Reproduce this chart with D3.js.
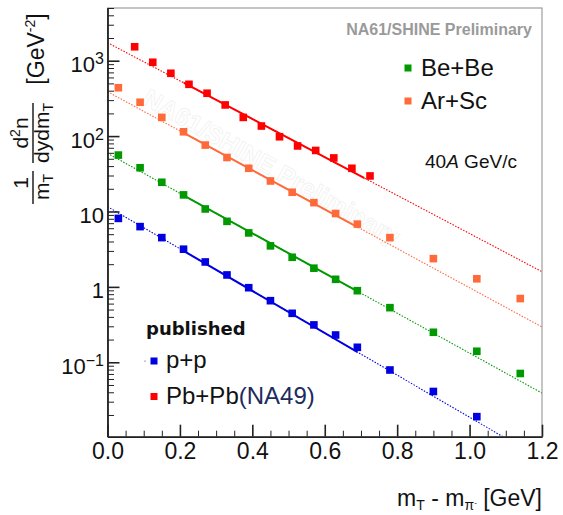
<!DOCTYPE html>
<html>
<head>
<meta charset="utf-8">
<script src="https://cdnjs.cloudflare.com/ajax/libs/d3/7.8.5/d3.min.js"></script>
<style>
body{margin:0;background:#fff;}
svg{display:block;font-family:"Liberation Sans",Arial,sans-serif;}
</style>
</head>
<body>
<svg id="graph"></svg>
<script>
// values
var xNA61 = [0.03,0.09,0.15,0.21,0.27,0.33,0.39,0.45,0.51,0.57,0.63,0.69,0.78,0.90,1.02,1.14];
var xPbPb = [0.075,0.125,0.175,0.225,0.275,0.325,0.375,0.425,0.475,0.525,0.575,0.625,0.675,0.725];

var beBe = [56,38,24.4,16.6,10.8,7.4,5.2,3.5,2.47,1.77,1.26,0.89,0.53,0.25,0.14,0.071];
var arSc = [438,281,177,114,76,52,37.4,25.4,18,13.1,9.4,6.8,4.5,2.37,1.28,0.70];
var pp = [8.1,6.3,4.5,3.16,2.14,1.44,0.975,0.656,0.446,0.313,0.230,0.158,0.079,0.041,0.019];
var pbPb = [1530,953,681,486,370,259,177,136,98,74,64.5,51.3,37.4,29.6];

// exponential fits: value at x=0 and at x=1.2, solid over the fit range
var fitNames = ["pbpb","arsc","bebe","pp"];
var fitAtZero = [1734,388,59.1,11.6];
var fitAtEnd = [1.59,0.294,0.039,0.00515];
var fitFrom = [0.21,0.20,0.20,0.20];
var fitTo = [0.71,0.69,0.69,0.69];
var fitColors = ["#ff0000","#ff6a3a","#009900","#0000e0"];

var yTickValues = [0.1,1,10,100,1000];
var yTickBase = ["10","1","10","10","10"];
var yTickExp = ["\u22121","","","2","3"];
var xTickValues = [0,0.2,0.4,0.6,0.8,1.0,1.2];

var screen = {width:563, height:515};
var margins = {top:8, left:107.5, right:21, bottom:78.3};
var graph = {
    width: screen.width-margins.left-margins.right,
    height: screen.height-margins.top-margins.bottom
};

var svg = d3.select("#graph")
    .attr("width",screen.width)
    .attr("height",screen.height);

var xScale = d3.scaleLinear()
    .domain([0,1.2])
    .range([margins.left, margins.left+graph.width]);

var yScale = d3.scaleLog()
    .domain([0.0103,5000])
    .range([margins.top+graph.height, margins.top]);

var bottom = margins.top+graph.height;

svg.append("clipPath").attr("id","plotclip")
    .append("rect")
    .attr("x",margins.left).attr("y",margins.top)
    .attr("width",graph.width).attr("height",graph.height);

// faint watermark
svg.append("text")
    .attr("transform","translate(141,103) rotate(29.5)")
    .attr("font-weight","bold")
    .attr("font-size",25)
    .attr("fill","#ffffff")
    .attr("stroke","#f0f0f0")
    .attr("stroke-width",0.7)
    .text("NA61/SHINE Preliminary");

// fit lines
var fitG = svg.append("g").attr("clip-path","url(#plotclip)");
var lineGen = d3.line()
    .x(function(d){ return xScale(d[0]); })
    .y(function(d){ return yScale(d[1]); });

fitNames.forEach(function(name,i){
    var pts = [[0,fitAtZero[i]],[1.2,fitAtEnd[i]]];
    fitG.append("path")
        .attr("d",lineGen(pts))
        .attr("fill","none")
        .attr("stroke",fitColors[i])
        .attr("stroke-width",1.1)
        .attr("stroke-dasharray","1.5,1.5");
    svg.append("clipPath").attr("id","fit-"+name)
        .append("rect")
        .attr("x",xScale(fitFrom[i])).attr("y",margins.top)
        .attr("width",xScale(fitTo[i])-xScale(fitFrom[i]))
        .attr("height",graph.height);
    svg.append("g").attr("clip-path","url(#fit-"+name+")")
        .append("path")
        .attr("d",lineGen(pts))
        .attr("fill","none")
        .attr("stroke",fitColors[i])
        .attr("stroke-width",2);
});

// points
var drawSquares = function(xs,ys,color)
{
    svg.append("g")
        .selectAll("rect")
        .data(ys)
        .enter()
        .append("rect")
        .attr("x",function(d,i){ return xScale(xs[i])-3.8; })
        .attr("y",function(d){ return yScale(d)-3.8; })
        .attr("width",7.6)
        .attr("height",7.6)
        .attr("fill",color);
}
drawSquares(xPbPb,pbPb,"#ff0000");
drawSquares(xNA61,arSc,"#ff6a3a");
drawSquares(xNA61,beBe,"#009900");
drawSquares(xNA61,pp,"#0000e0");

// frame
svg.append("rect")
    .attr("x",margins.left).attr("y",margins.top)
    .attr("width",graph.width).attr("height",graph.height)
    .attr("fill","none")
    .attr("stroke","#8a8a8a")
    .attr("stroke-width",1);

// axes
var yMinor = yScale.ticks().filter(function(v){
    return yTickValues.indexOf(v)<0;
});
svg.append("g")
    .attr("transform","translate("+margins.left+",0)")
    .call(d3.axisLeft(yScale).tickValues(yMinor).tickSize(-6.5).tickSizeOuter(0).tickFormat(""))
    .attr("color","#222");
svg.append("g")
    .attr("transform","translate("+margins.left+",0)")
    .call(d3.axisLeft(yScale).tickValues(yTickValues).tickSize(-12).tickSizeOuter(0).tickFormat(""))
    .attr("color","#222")
    .selectAll("path,line").attr("stroke-width",1.6);

var yLab = svg.append("g")
    .selectAll("text")
    .data(yTickValues)
    .enter()
    .append("text")
    .attr("x",104)
    .attr("y",function(d){ return yScale(d)+11.5; })
    .attr("text-anchor","end")
    .attr("font-size",22)
    .attr("fill","#111");
yLab.append("tspan").text(function(d,i){ return yTickBase[i]; });
yLab.append("tspan")
    .attr("font-size",16)
    .attr("dy",-8)
    .text(function(d,i){ return yTickExp[i]; });

var xMinor = d3.range(0,1.2001,0.05).filter(function(v){
    return Math.abs(v*5-Math.round(v*5))>0.01;
});
svg.append("g")
    .attr("transform","translate(0,"+bottom+")")
    .call(d3.axisBottom(xScale).tickValues(xMinor).tickSize(-6).tickSizeOuter(0).tickFormat(""))
    .attr("color","#222");
var xAx = svg.append("g")
    .attr("transform","translate(0,"+bottom+")")
    .call(d3.axisBottom(xScale).tickValues(xTickValues).tickSize(-12).tickSizeOuter(0).tickFormat(d3.format(".1f")))
    .attr("color","#222");
xAx.selectAll("path,line").attr("stroke-width",1.6);
xAx.selectAll("text")
    .attr("y",22.8)
    .attr("dy",null)
    .attr("font-size",23)
    .attr("font-family","Liberation Sans, Arial, sans-serif")
    .attr("fill","#111");

// x title
var xt = svg.append("text")
    .attr("x",542).attr("y",506)
    .attr("text-anchor","end")
    .attr("font-size",23)
    .attr("fill","#111");
xt.append("tspan").text("m");
xt.append("tspan").attr("font-size",14).attr("dy",4).text("T");
xt.append("tspan").attr("dy",-4).text(" - m");
xt.append("tspan").attr("font-size",14).attr("dy",4).text("\u03c0");
xt.append("tspan").attr("font-size",8).attr("dy",-5).text("-");
xt.append("tspan").attr("dy",1).text(" [GeV]");

// y title
var yt = svg.append("g").attr("transform","rotate(-90)").attr("fill","#111");
yt.append("text")
    .attr("x",-183).attr("y",28)
    .attr("text-anchor","middle").attr("font-size",21)
    .text("1");
var den1 = yt.append("text")
    .attr("x",-187).attr("y",49)
    .attr("text-anchor","middle").attr("font-size",21);
den1.append("tspan").text("m");
den1.append("tspan").attr("font-size",14).attr("dy",4).text("T");
yt.append("line")
    .attr("x1",-204).attr("x2",-171).attr("y1",33).attr("y2",33)
    .attr("stroke","#111").attr("stroke-width",1.4);

var num2 = yt.append("text")
    .attr("x",-133).attr("y",28)
    .attr("text-anchor","middle").attr("font-size",21);
num2.append("tspan").text("d");
num2.append("tspan").attr("font-size",14).attr("dy",-8).text("2");
num2.append("tspan").attr("dy",8).text("n");
var den2 = yt.append("text")
    .attr("x",-133).attr("y",49)
    .attr("text-anchor","middle").attr("font-size",21);
den2.append("tspan").text("dydm");
den2.append("tspan").attr("font-size",14).attr("dy",4).text("T");
yt.append("line")
    .attr("x1",-163).attr("x2",-103).attr("y1",33).attr("y2",33)
    .attr("stroke","#111").attr("stroke-width",1.4);

var unit = yt.append("text")
    .attr("x",-49).attr("y",44)
    .attr("text-anchor","middle").attr("font-size",23);
unit.append("tspan").text("[GeV");
unit.append("tspan").attr("font-size",14).attr("dy",-9).text("-2");
unit.append("tspan").attr("dy",9).text("]");

// header and labels
svg.append("text")
    .attr("x",532).attr("y",35)
    .attr("text-anchor","end")
    .attr("font-weight","bold")
    .attr("font-size",16)
    .attr("fill","#9a9a9a")
    .text("NA61/SHINE Preliminary");

var energy = svg.append("text")
    .attr("x",425).attr("y",168)
    .attr("font-size",19)
    .attr("fill","#111");
energy.append("tspan").text("40");
energy.append("tspan").attr("font-style","italic").text("A");
energy.append("tspan").text(" GeV/c");

// legends
var legendTop = [
    {name:"Be+Be", color:"#009900", x:408, y:68},
    {name:"Ar+Sc", color:"#ff6a3a", x:408, y:101}
];
legendTop.forEach(function(l){
    svg.append("rect")
        .attr("x",l.x-3.5).attr("y",l.y-3.5)
        .attr("width",7).attr("height",7)
        .attr("fill",l.color);
    svg.append("text")
        .attr("x",421).attr("y",l.y+8)
        .attr("font-size",24)
        .attr("fill","#111")
        .text(l.name);
});

svg.append("text")
    .attr("x",146).attr("y",335)
    .attr("font-family","DejaVu Sans, sans-serif")
    .attr("font-weight","bold")
    .attr("font-size",18)
    .attr("fill","#111")
    .text("published");

svg.append("circle").attr("cx",145).attr("cy",361).attr("r",0.6).attr("fill","#333");
svg.append("rect")
    .attr("x",150.5).attr("y",357.5).attr("width",7).attr("height",7)
    .attr("fill","#0000e0");
svg.append("text")
    .attr("x",166).attr("y",368)
    .attr("font-size",24)
    .attr("fill","#111")
    .text("p+p");

svg.append("rect")
    .attr("x",150.5).attr("y",393).attr("width",7).attr("height",7)
    .attr("fill","#ff0000");
var pbLeg = svg.append("text")
    .attr("x",166).attr("y",404)
    .attr("font-size",24)
    .attr("fill","#111");
pbLeg.append("tspan").text("Pb+Pb");
pbLeg.append("tspan").attr("fill","#1c2c5c").text("(NA49)");
</script>
</body>
</html>
